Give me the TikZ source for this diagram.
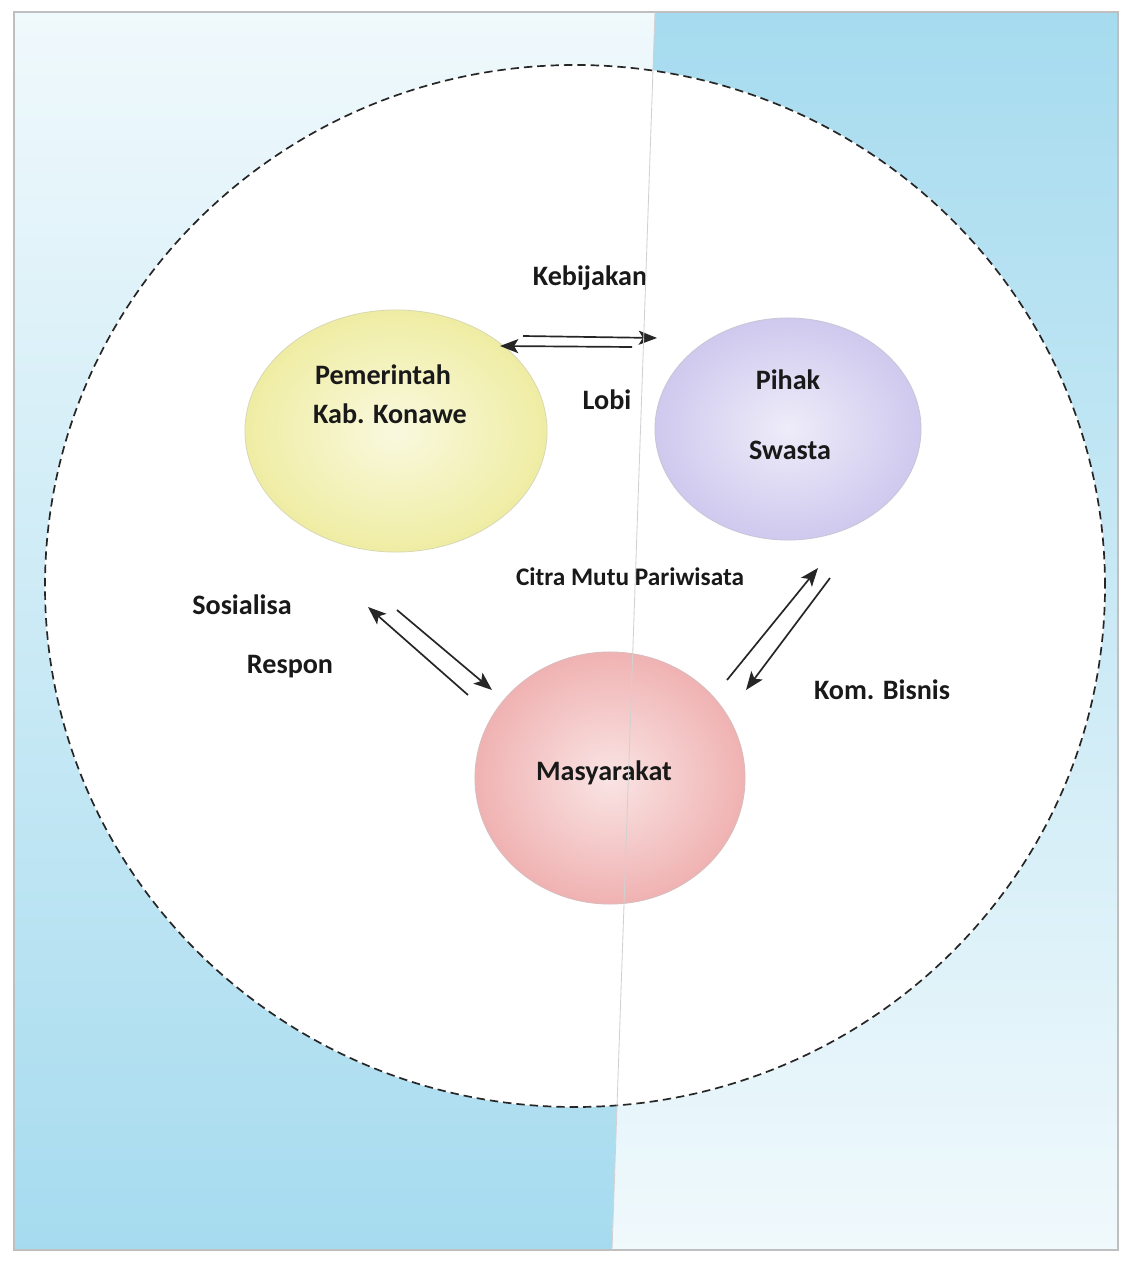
\documentclass[tikz,border=0pt]{standalone}
\usepackage{fontspec}
\setmainfont{Carlito}
\usetikzlibrary{positioning, arrows.meta, shapes.geometric}

\definecolor{bgblue}{HTML}{A6DBEF}
\definecolor{bglight}{HTML}{F0F9FC}
\definecolor{govyellow}{HTML}{EFEDA3}
\definecolor{privpurple}{HTML}{CFC9EE}
\definecolor{comred}{HTML}{F0B2B2}

\begin{document}
\begin{tikzpicture}[
    x=0.025cm, y=0.025cm,
    >={Stealth[length=13pt, width=10pt, inset=3pt]},
    blob/.style={ellipse, inner sep=0pt, draw=#1!80!black!60, line width=0.6pt,
        shading=radial, inner color=#1!35!white, outer color=#1},
    txt/.style={font=\bfseries\fontsize{20}{24}\selectfont, text=black!90},
    flow/.style={->, line width=1.2pt, color=black!85}
]

    % Page and background panels
    \useasboundingbox (0,0) rectangle (1133,-1261);
    \fill[white] (0,0) rectangle (1133,-1261);
    \shade[top color=bglight, bottom color=bgblue]
        (14,-12) -- (655,-12) -- (612,-1250) -- (14,-1250) -- cycle;
    \shade[top color=bgblue, bottom color=bglight]
        (655,-12) -- (1118,-12) -- (1118,-1250) -- (612,-1250) -- cycle;
    \draw[black!25, line width=0.8pt] (14,-12) rectangle (1118,-1250);

    % Dashed boundary
    \draw[white, fill=white] (575,-586) ellipse [x radius=530, y radius=521];
    \draw[black!85, line width=1.2pt, dash pattern=on 6pt off 3.5pt]
        (575,-586) ellipse [x radius=530, y radius=521];

    % Define the three actors
    \node[blob=govyellow, minimum width=7.55cm, minimum height=6.05cm] (gov) at (396,-431) {};
    \node[blob=privpurple, minimum width=6.65cm, minimum height=5.55cm] (priv) at (788,-429) {};
    \node[blob=comred, minimum width=6.75cm, minimum height=6.3cm] (com) at (610,-778) {};

    % Texts inside the actors
    \node[txt] (govA) at (383,-375) {Pemerintah};
    \node[txt] (govB) at (390,-414) {Kab. Konawe};
    \node[txt] (privA) at (788,-380) {Pihak};
    \node[txt] (privB) at (790,-450) {Swasta};
    \node[txt] (comA) at (604,-773) {Masyarakat};

    % Flow labels
    \node[txt] (kebijakan) at (590,-278) {Kebijakan};
    \node[txt] (lobi) at (607,-400) {Lobi};
    \node[txt, font=\bfseries\fontsize{18}{22}\selectfont] (citra) at (630,-577) {Citra Mutu Pariwisata};
    \node[txt] (sosialisa) at (242,-605) {Sosialisa};
    \node[txt] (respon) at (290,-667) {Respon};
    \node[txt] (bisnis) at (882,-690) {Kom. Bisnis};

    % Arrow end points
    \coordinate (kbS) at (523,-336);  \coordinate (kbE) at (657,-338);
    \coordinate (lbS) at (632,-347);  \coordinate (lbE) at (500,-346);
    \coordinate (soS) at (397,-610);  \coordinate (soE) at (492,-690);
    \coordinate (reS) at (468,-695);  \coordinate (reE) at (368,-607);
    \coordinate (ciS) at (727,-680);  \coordinate (ciE) at (818,-568);
    \coordinate (boS) at (830,-578);  \coordinate (boE) at (746,-690);

    % Two-way links
    \foreach \src/\dst in {kbS/kbE, lbS/lbE, soS/soE, reS/reE, ciS/ciE, boS/boE} {
        \draw[flow] (\src) -- (\dst);
    }

    % Fold of the scanned page
    \coordinate (foldT) at (655,-12);
    \coordinate (foldB) at (612,-1250);
    \draw[black!18, line width=0.6pt] (foldT) -- (foldB);

\end{tikzpicture}
\end{document}
